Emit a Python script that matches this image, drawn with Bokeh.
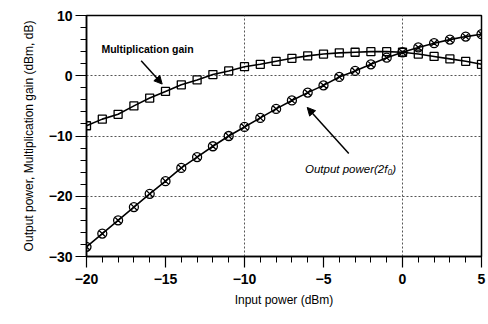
from bokeh.plotting import figure
from bokeh.models import (Range1d, FixedTicker, Label, Arrow, NormalHead, ColumnDataSource)
from bokeh.embed import file_html
from bokeh.resources import INLINE

# ---- data ----
input_power = [-20, -19, -18, -17, -16, -15, -14, -13, -12, -11, -10, -9, -8,
               -7, -6, -5, -4, -3, -2, -1, 0, 1, 2, 3, 4, 5]
output_power = [-28.4, -26.2, -24.0, -21.8, -19.6, -17.5, -15.3, -13.5, -11.7,
                -10.0, -8.5, -7.0, -5.5, -4.1, -2.8, -1.6, -0.2, 0.8, 1.9, 3.0,
                3.9, 4.7, 5.4, 6.0, 6.5, 6.9]
mult_gain = [-8.3, -7.2, -6.4, -5.0, -3.7, -2.6, -1.5, -0.7, 0.2, 0.8, 1.5, 1.9,
             2.4, 2.9, 3.3, 3.6, 3.8, 3.9, 4.0, 4.0, 3.9, 3.6, 3.2, 2.8, 2.4, 1.9]
x_ticks = [-20, -15, -10, -5, 0, 5]
y_ticks = [-30, -20, -10, 0, 10]
x_label = "Input power (dBm)"
y_label = "Output power, Multiplication gain (dBm, dB)"
gain_label = "Multiplication gain"
out_label = "Output power(2f\u2080)"

FONT = "Liberation Sans"

p = figure(width=486, height=312, output_backend="svg", toolbar_location=None,
           x_range=Range1d(-20, 5), y_range=Range1d(-30, 10),
           min_border_left=86, min_border_right=5, min_border_top=15,
           min_border_bottom=56)
p.background_fill_color = "white"
p.border_fill_color = "white"
p.outline_line_color = "black"
p.outline_line_width = 1.5

# axes
for ax in (p.xaxis, p.yaxis):
    ax.axis_line_color = "black"
    ax.axis_line_width = 1.5
    ax.major_tick_line_color = "black"
    ax.minor_tick_line_color = "black"
    ax.major_tick_line_width = 1.2
    ax.minor_tick_line_width = 1
    ax.major_tick_in = 0
    ax.minor_tick_in = 0
    ax.major_tick_out = 11
    ax.minor_tick_out = 6
    ax.major_label_text_font = FONT
    ax.major_label_text_font_style = "bold"
    ax.major_label_text_font_size = "14px"
    ax.major_label_text_color = "black"
    ax.axis_label_text_font = FONT
    ax.axis_label_text_font_style = "normal"
    ax.axis_label_text_font_size = "12px"
    ax.axis_label_text_color = "black"

p.xaxis.ticker = FixedTicker(ticks=x_ticks, minor_ticks=list(range(-20, 6)))
p.yaxis.ticker = FixedTicker(ticks=y_ticks, minor_ticks=list(range(-30, 11, 2)))
p.xaxis.axis_label = x_label
p.yaxis.axis_label = y_label
p.xaxis.major_label_standoff = 6
p.yaxis.major_label_standoff = 3
p.xaxis.axis_label_standoff = 6
p.yaxis.axis_label_standoff = 10

# grid
p.xgrid.ticker = FixedTicker(ticks=[-10, 0])
p.ygrid.ticker = FixedTicker(ticks=[-20, -10, 0])
for g in (p.xgrid, p.ygrid):
    g.grid_line_color = "#555555"
    g.grid_line_dash = "2 2"
    g.grid_line_width = 1

src = ColumnDataSource(dict(x=input_power, out=output_power, gain=mult_gain))

p.line("x", "gain", source=src, line_color="black", line_width=1.6)
p.scatter("x", "gain", source=src, marker="square", size=8,
          fill_color=None, line_color="black", line_width=1.3)
p.line("x", "out", source=src, line_color="black", line_width=1.6)
p.scatter("x", "out", source=src, marker="circle_x", size=9,
          fill_color=None, line_color="black", line_width=1.3)

# annotations
p.add_layout(Label(x=-16.14, y=4.48, text=gain_label, text_align="center",
                   text_baseline="middle", text_font=FONT,
                   text_font_style="bold", text_font_size="10.5px",
                   text_color="black"))
p.add_layout(Arrow(end=NormalHead(size=8, fill_color="black", line_color="black"),
                   x_start=-16.54, y_start=2.49, x_end=-15.21, y_end=-1.38,
                   line_color="black", line_width=1.5))
p.add_layout(Label(x=-3.29, y=-15.4, text=out_label, text_align="center",
                   text_baseline="middle", text_font=FONT,
                   text_font_style="italic", text_font_size="11.5px",
                   text_color="black"))
p.add_layout(Arrow(end=NormalHead(size=8, fill_color="black", line_color="black"),
                   x_start=-3.40, y_start=-12.9, x_end=-6.03, y_end=-5.26,
                   line_color="black", line_width=1.5))

open("out.html", "w").write(file_html(p, INLINE))
